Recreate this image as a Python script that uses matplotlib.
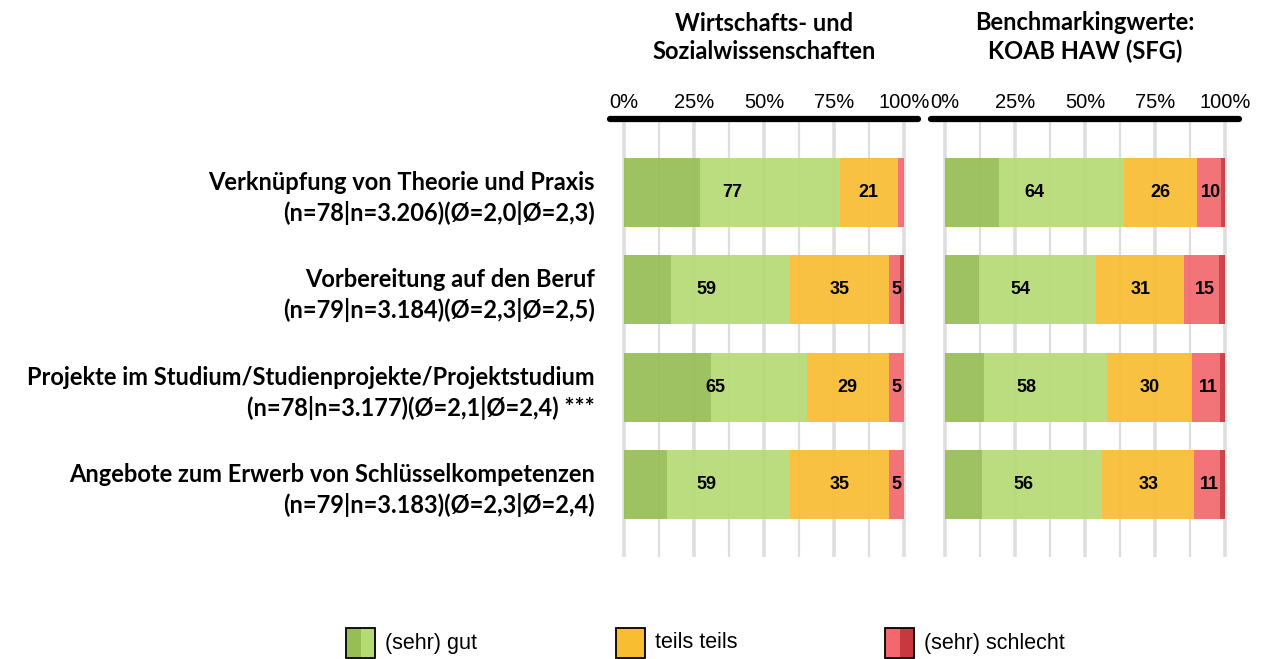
import matplotlib.pyplot as plt
from matplotlib.patches import Rectangle

W, H = 1268, 659

items = ['Verknüpfung von Theorie und Praxis\n(n=78|n=3.206)(Ø=2,0|Ø=2,3)',
         'Vorbereitung auf den Beruf\n(n=79|n=3.184)(Ø=2,3|Ø=2,5)',
         'Projekte im Studium/Studienprojekte/Projektstudium\n(n=78|n=3.177)(Ø=2,1|Ø=2,4) ***',
         'Angebote zum Erwerb von Schlüsselkompetenzen\n(n=79|n=3.183)(Ø=2,3|Ø=2,4)']

titles = ['Wirtschafts- und\nSozialwissenschaften', 'Benchmarkingwerte:\nKOAB HAW (SFG)']

# segment shares, left = Fach, right = Benchmark
sehr_gut_l = [27.0, 16.7, 31.0, 15.4]
gut_l = [50.0, 42.5, 34.2, 43.8]
teils_l = [20.7, 35.3, 29.4, 35.5]
schlecht_l = [2.3, 4.2, 5.4, 5.3]
sehr_schlecht_l = [0.0, 1.3, 0.0, 0.0]

sehr_gut_r = [19.2, 12.0, 14.0, 13.1]
gut_r = [44.8, 42.0, 44.0, 43.0]
teils_r = [26.0, 31.5, 30.3, 33.0]
schlecht_r = [8.6, 12.2, 9.8, 9.1]
sehr_schlecht_r = [1.4, 2.3, 1.9, 1.8]

# printed labels
lbl_gut_l = [77, 59, 65, 59]
lbl_teils_l = [21, 35, 29, 35]
lbl_schlecht_l = [None, 5, 5, 5]
lbl_gut_r = [64, 54, 58, 56]
lbl_teils_r = [26, 31, 30, 33]
lbl_schlecht_r = [10, 15, 11, 11]

legend_labels = ['(sehr) gut', 'teils teils', '(sehr) schlecht']

c_dgreen = '#97bd55'
c_lgreen = '#b6db75'
c_orange = '#f9bd32'
c_lred = '#f2686e'
c_dred = '#c8393f'

fig = plt.figure(figsize=(W / 100, H / 100), dpi=100)

ax_l = fig.add_axes([610 / W, 1 - 557 / H, 308 / W, 438 / H])
ax_r = fig.add_axes([931 / W, 1 - 557 / H, 308 / W, 438 / H])

panels = [
    (ax_l, [sehr_gut_l, gut_l, teils_l, schlecht_l, sehr_schlecht_l], lbl_gut_l, lbl_teils_l, lbl_schlecht_l),
    (ax_r, [sehr_gut_r, gut_r, teils_r, schlecht_r, sehr_schlecht_r], lbl_gut_r, lbl_teils_r, lbl_schlecht_r),
]
colors = [c_dgreen, c_lgreen, c_orange, c_lred, c_dred]
ypos = list(range(len(items)))

for k, (ax, segs, lg, lt, ls) in enumerate(panels):
    left = [0.0] * len(items)
    for vals, col in zip(segs, colors):
        ax.barh(ypos, vals, left=left, height=0.71, color=col, alpha=0.93,
                linewidth=0, zorder=2)
        left = [a + b for a, b in zip(left, vals)]
    for i in ypos:
        g = segs[0][i] + segs[1][i]
        t = segs[2][i]
        r = segs[3][i] + segs[4][i]
        ax.text(g / 2, i, str(lg[i]), ha='center', va='center', fontsize=13,
                fontweight='bold', family='Liberation Sans', zorder=3)
        ax.text(g + t / 2, i, str(lt[i]), ha='center', va='center', fontsize=13,
                fontweight='bold', family='Liberation Sans', zorder=3)
        if ls[i] is not None:
            ax.text(g + t + r / 2, i, str(ls[i]), ha='center', va='center', fontsize=13,
                    fontweight='bold', family='Liberation Sans', zorder=3)

    for x in [0, 12.5, 25, 37.5, 50, 62.5, 75, 87.5, 100]:
        lw = 2.6 if x % 25 == 0 else 1.6
        ax.axvline(x, color='#dedede', linewidth=lw, zorder=1)

    ax.set_xlim(-5, 105)
    ax.set_ylim(3.74, -0.75)
    ax.xaxis.tick_top()
    ax.set_xticks([0, 25, 50, 75, 100])
    ax.set_xticklabels(['0%', '25%', '50%', '75%', '100%'], family='Liberation Sans', fontsize=14.5)
    ax.tick_params(axis='x', length=0, pad=5)
    for s in ['bottom', 'left', 'right']:
        ax.spines[s].set_visible(False)
    ax.spines['top'].set_linewidth(4.5)
    ax.spines['top'].set_capstyle('round')
    ax.set_title(titles[k], fontsize=17, fontweight='bold', family='Lato',
                 pad=43, linespacing=1.3)

    if k == 0:
        ax.set_yticks(ypos)
        ax.set_yticklabels(items, fontsize=17, fontweight='bold', family='Lato', linespacing=1.35)
        for lab in ax.get_yticklabels():
            lab.set_multialignment('right')
        ax.tick_params(axis='y', length=0, pad=11)
    else:
        ax.set_yticks([])

# legend
leg_x = [346, 616, 885]
leg_cols = [(c_dgreen, c_lgreen), (c_orange, c_orange), (c_lred, c_dred)]
sw, sh = 29, 30
y0 = H - 658
for x, (ca, cb), lab in zip(leg_x, leg_cols, legend_labels):
    fig.add_artist(Rectangle((x / W, y0 / H), (sw / 2) / W, sh / H, facecolor=ca,
                             edgecolor='none', transform=fig.transFigure))
    fig.add_artist(Rectangle(((x + sw / 2) / W, y0 / H), (sw / 2) / W, sh / H, facecolor=cb,
                             edgecolor='none', transform=fig.transFigure))
    fig.add_artist(Rectangle((x / W, y0 / H), sw / W, sh / H, facecolor='none',
                             edgecolor='black', linewidth=1.3, transform=fig.transFigure))
    fig.text((x + sw + 10) / W, (y0 + sh / 2) / H, lab, ha='left', va='center',
             fontsize=15.5, family='Liberation Sans')

fig.savefig('out.png', dpi=100)
